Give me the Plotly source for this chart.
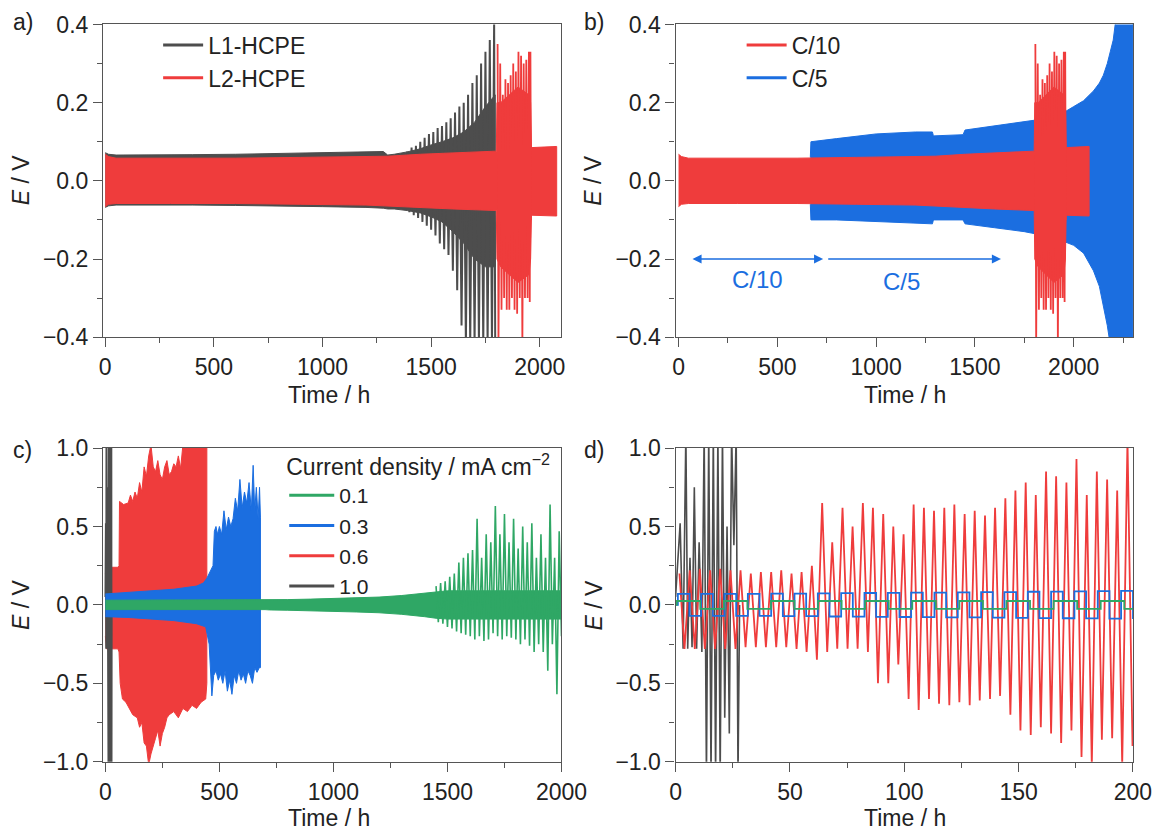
import plotly.graph_objects as go

# ---------------- colours ----------------
GRAY = "#4d4d4d"
RED = "#ef3c3c"
BLUE = "#1b6ee0"
GREEN = "#2fa765"

# ---------------- panel a : L1-HCPE (dense band + spikes) ----------------
A_L1_T = [0, 15, 50, 200, 400, 600, 800, 1000, 1200, 1280, 1300, 1330, 1390, 1450, 1500, 1550, 1600, 1650, 1700, 1750, 1795]
A_L1_HI = [0.072, 0.068, 0.066, 0.066, 0.067, 0.068, 0.07, 0.072, 0.074, 0.075, 0.066, 0.068, 0.074, 0.082, 0.092, 0.1, 0.11, 0.125, 0.15, 0.19, 0.22]
A_L1_LO = [-0.068, -0.064, -0.062, -0.062, -0.062, -0.063, -0.064, -0.066, -0.068, -0.07, -0.072, -0.072, -0.076, -0.082, -0.092, -0.105, -0.13, -0.16, -0.2, -0.22, -0.22]
A_L1_PK_T = [1390, 1410, 1430, 1450, 1470, 1490, 1510, 1530, 1550, 1570, 1590, 1610, 1630, 1650, 1670, 1690, 1710, 1730, 1750, 1770, 1790]
A_L1_PK_V = [0.075, 0.085, 0.09, 0.1, 0.11, 0.12, 0.125, 0.135, 0.14, 0.15, 0.16, 0.175, 0.19, 0.2, 0.22, 0.25, 0.27, 0.3, 0.33, 0.36, 0.41]
A_L1_TR_T = [1400, 1420, 1440, 1460, 1480, 1500, 1520, 1540, 1560, 1580, 1600, 1620, 1640, 1660, 1680, 1700, 1720, 1740, 1760, 1780, 1795]
A_L1_TR_V = [-0.08, -0.088, -0.095, -0.105, -0.115, -0.125, -0.14, -0.16, -0.175, -0.19, -0.23, -0.28, -0.37, -0.42, -0.42, -0.42, -0.42, -0.42, -0.42, -0.42, -0.42]

# ---------------- L2-HCPE / C/10 (same cell in a and b) ----------------
L2_T = [0, 15, 50, 300, 600, 900, 1200, 1300, 1450, 1600, 1800, 1803, 1820, 1860, 1900, 1950, 1958, 1962, 2000, 2078]
L2_HI = [0.068, 0.062, 0.058, 0.058, 0.058, 0.06, 0.062, 0.063, 0.068, 0.072, 0.076, 0.2, 0.2, 0.22, 0.24, 0.22, 0.2, 0.085, 0.086, 0.088]
L2_LO = [-0.066, -0.06, -0.058, -0.058, -0.058, -0.06, -0.062, -0.064, -0.068, -0.072, -0.076, -0.2, -0.22, -0.24, -0.26, -0.24, -0.2, -0.088, -0.088, -0.09]
L2_PK_T = [1806, 1818, 1830, 1842, 1854, 1866, 1878, 1890, 1902, 1914, 1926, 1938, 1950, 1957]
L2_PK_V = [0.35, 0.3, 0.22, 0.26, 0.25, 0.27, 0.3, 0.28, 0.33, 0.32, 0.3, 0.31, 0.33, 0.33]
L2_TR_T = [1810, 1824, 1836, 1848, 1860, 1872, 1884, 1896, 1908, 1920, 1932, 1944, 1954, 1960]
L2_TR_V = [-0.42, -0.33, -0.3, -0.33, -0.33, -0.3, -0.33, -0.34, -0.3, -0.42, -0.3, -0.3, -0.31, -0.1]

# ---------------- panel b : C/5 ----------------
B_C5_T = [667, 670, 800, 1000, 1200, 1285, 1290, 1440, 1450, 1600, 1750, 1800, 1900, 1950, 2000, 2050, 2100, 2130, 2150, 2170, 2185, 2200, 2215, 2300]
B_C5_HI = [0.06, 0.1, 0.108, 0.12, 0.125, 0.125, 0.115, 0.118, 0.13, 0.14, 0.15, 0.155, 0.165, 0.175, 0.19, 0.205, 0.23, 0.25, 0.27, 0.3, 0.33, 0.36, 0.42, 0.42]
B_C5_LO = [-0.06, -0.1, -0.1, -0.104, -0.108, -0.11, -0.1, -0.1, -0.11, -0.12, -0.13, -0.135, -0.145, -0.155, -0.165, -0.185, -0.23, -0.27, -0.32, -0.37, -0.42, -0.42, -0.42, -0.42]

# ---------------- panel c ----------------
C_R_HT = [0, 5, 55, 60, 62, 80, 100, 110, 120, 130, 140, 150, 160, 170, 180, 190, 200, 210, 220, 230, 240, 250, 260, 270, 280, 290, 300, 310, 320, 330, 340, 350, 445]
C_R_HV = [0.2, 0.24, 0.24, 0.25, 0.66, 0.64, 0.65, 0.7, 0.66, 0.72, 0.68, 0.78, 0.72, 0.88, 0.82, 0.95, 1.02, 0.88, 0.85, 0.92, 0.83, 0.8, 0.88, 0.92, 0.83, 0.85, 0.9, 0.88, 0.95, 0.87, 1.02, 1.05, 1.05]
C_R_LT = [0, 5, 55, 60, 65, 75, 90, 100, 120, 140, 150, 160, 170, 180, 190, 200, 210, 220, 230, 240, 250, 260, 270, 280, 300, 320, 340, 360, 380, 400, 420, 440, 445]
C_R_LV = [-0.2, -0.28, -0.28, -0.3, -0.5, -0.6, -0.62, -0.65, -0.7, -0.72, -0.78, -0.75, -0.88, -0.9, -1.02, -0.95, -0.9, -0.85, -0.8, -0.9, -0.82, -0.78, -0.72, -0.7, -0.68, -0.72, -0.66, -0.68, -0.64, -0.66, -0.62, -0.6, -0.5]

C_B_HT = [0, 100, 200, 300, 400, 430, 445, 455, 465, 472, 478, 485, 492, 500, 510, 520, 530, 540, 550, 560, 570, 580, 590, 600, 610, 620, 630, 640, 648, 655, 662, 670, 676, 680]
C_B_HV = [0.07, 0.08, 0.09, 0.1, 0.12, 0.14, 0.17, 0.2, 0.22, 0.25, 0.47, 0.5, 0.45, 0.5, 0.45, 0.6, 0.48, 0.56, 0.5, 0.55, 0.68, 0.6, 0.8, 0.62, 0.72, 0.65, 0.78, 0.6, 0.89, 0.6, 0.75, 0.55, 0.75, 0.56]
C_B_LT = [0, 100, 200, 300, 400, 440, 455, 462, 467, 475, 485, 495, 505, 515, 525, 535, 545, 555, 565, 575, 585, 595, 605, 615, 625, 635, 645, 655, 665, 675, 680]
C_B_LV = [-0.075, -0.08, -0.09, -0.1, -0.12, -0.14, -0.25, -0.45, -0.58, -0.45, -0.42, -0.48, -0.44, -0.5, -0.42, -0.55, -0.48, -0.57, -0.45, -0.5, -0.42, -0.48, -0.44, -0.5, -0.42, -0.45, -0.5, -0.4, -0.43, -0.4, -0.4]

C_G_T = [0, 700, 720, 800, 900, 1000, 1100, 1200, 1300, 1400, 1450, 1500, 1550, 1600, 1700, 1800, 1900, 2000]
C_G_HI = [0.03, 0.03, 0.032, 0.034, 0.037, 0.04, 0.045, 0.05, 0.06, 0.075, 0.085, 0.09, 0.09, 0.09, 0.09, 0.09, 0.09, 0.09]
C_G_LO = [-0.03, -0.03, -0.032, -0.034, -0.037, -0.04, -0.045, -0.05, -0.06, -0.075, -0.085, -0.09, -0.09, -0.09, -0.09, -0.09, -0.09, -0.09]
C_G_PK_T = [1450, 1470, 1490, 1510, 1530, 1550, 1570, 1590, 1610, 1630, 1650, 1670, 1690, 1710, 1730, 1750, 1770, 1790, 1810, 1830, 1850, 1870, 1890, 1910, 1930, 1950, 1970, 1990]
C_G_PK_V = [0.12, 0.14, 0.15, 0.18, 0.2, 0.27, 0.3, 0.33, 0.35, 0.55, 0.3, 0.45, 0.4, 0.63, 0.45, 0.58, 0.4, 0.55, 0.36, 0.5, 0.4, 0.52, 0.3, 0.45, 0.3, 0.64, 0.3, 0.47]
C_G_TR_T = [1460, 1480, 1500, 1520, 1540, 1560, 1580, 1600, 1620, 1640, 1660, 1680, 1700, 1720, 1740, 1760, 1780, 1800, 1820, 1840, 1860, 1880, 1900, 1920, 1940, 1960, 1980, 2000]
C_G_TR_V = [-0.11, -0.12, -0.14, -0.15, -0.17, -0.18, -0.19, -0.2, -0.22, -0.2, -0.23, -0.22, -0.18, -0.2, -0.22, -0.2, -0.21, -0.22, -0.25, -0.22, -0.26, -0.3, -0.25, -0.3, -0.42, -0.25, -0.57, -0.2]

# ---------------- 1.0 mA cm-2 cell (panels c and d) ----------------
K_T = [0, 1, 2, 3.3, 4.5, 5.3, 6.3, 7.2, 8.2, 9.2, 10.3, 11.5, 12.5, 13.5, 14.5, 15.5, 16.5, 17.5, 18.5, 19.5, 20.5, 21.5, 22.5, 23.5, 24.5, 25.5, 26.5, 27.3, 28]
K_V = [0.05, 0.3, 0.52, -0.28, 1.1, -0.28, 0.3, -0.27, 0.75, -0.28, 0.4, -0.3, 1.1, -1.1, 1.1, -1.1, 1.1, -1.1, 1.1, -1.1, 1.1, -0.72, 0.5, -0.82, 1.1, 0.38, 1.1, -1.1, 0.0]

# ---------------- panel d : 0.6 mA cm-2 turning points ----------------
D_R_PK_T = [1.7, 6.2, 10.6, 15.1, 19.5, 24.0, 28.4, 32.9, 37.3, 41.8, 46.2, 50.7, 55.1, 59.6, 64.1, 68.5, 73.0, 77.4, 81.9, 86.3, 90.8, 95.2, 99.7, 104.1, 108.6, 113.0, 117.5, 121.9, 126.4, 130.8, 135.3, 139.7, 144.2, 148.6, 153.1, 157.5, 162.0, 166.4, 170.9, 175.3, 179.8, 184.2, 188.7, 193.1, 197.6]
D_R_PK_V = [0.2, 0.22, 0.23, 0.22, 0.23, 0.22, 0.22, 0.2, 0.21, 0.21, 0.22, 0.2, 0.21, 0.25, 0.65, 0.4, 0.62, 0.5, 0.65, 0.62, 0.58, 0.5, 0.45, 0.64, 0.62, 0.6, 0.62, 0.64, 0.58, 0.6, 0.57, 0.62, 0.68, 0.73, 0.78, 0.7, 0.85, 0.82, 0.78, 0.93, 0.7, 0.85, 0.8, 0.73, 1.05]
D_R_TR_T = [3.9, 8.4, 12.8, 17.3, 21.7, 26.2, 30.6, 35.1, 39.5, 44.0, 48.4, 52.9, 57.3, 61.8, 66.3, 70.7, 75.2, 79.6, 84.1, 88.5, 93.0, 97.4, 101.9, 106.3, 110.8, 115.2, 119.7, 124.1, 128.6, 133.0, 137.5, 141.9, 146.4, 150.8, 155.3, 159.7, 164.2, 168.6, 173.1, 177.5, 182.0, 186.4, 190.9, 195.3, 199.8]
D_R_TR_V = [-0.28, -0.28, -0.28, -0.28, -0.28, -0.28, -0.27, -0.27, -0.27, -0.27, -0.27, -0.28, -0.3, -0.35, -0.3, -0.28, -0.28, -0.28, -0.3, -0.5, -0.5, -0.38, -0.6, -0.67, -0.6, -0.63, -0.64, -0.62, -0.64, -0.61, -0.6, -0.58, -0.7, -0.8, -0.83, -0.78, -0.82, -0.88, -0.8, -0.97, -1.02, -0.86, -0.85, -1.02, -0.9]

# 0.3 mA cm-2: square-wave switching times and levels
D_B_T = [0, 1.0, 6.1, 11.2, 16.3, 21.4, 26.5, 31.6, 36.7, 41.8, 46.9, 52.0, 57.1, 62.2, 67.3, 72.4, 77.5, 82.6, 87.7, 92.8, 97.9, 103.0, 108.1, 113.2, 118.3, 123.4, 128.5, 133.6, 138.7, 143.8, 148.9, 154.0, 159.1, 164.2, 169.3, 174.4, 179.5, 184.6, 189.7, 194.8, 200]
D_B_V = [0.0, 0.07, -0.07, 0.07, -0.07, 0.07, -0.07, 0.07, -0.07, 0.072, -0.072, 0.072, -0.072, 0.074, -0.074, 0.075, -0.075, 0.076, -0.076, 0.077, -0.077, 0.078, -0.078, 0.079, -0.079, 0.08, -0.08, 0.081, -0.081, 0.082, -0.082, 0.084, -0.084, 0.085, -0.085, 0.086, -0.086, 0.088, -0.088, 0.09, -0.09]
# 0.1 mA cm-2
D_G_T = [0, 0.5, 10.8, 21.1, 31.4, 41.7, 52.0, 62.3, 72.6, 82.9, 93.2, 103.5, 113.8, 124.1, 134.4, 144.7, 155.0, 165.3, 175.6, 185.9, 196.2, 200]
D_G_V = [0.0, 0.025, -0.025, 0.025, -0.025, 0.025, -0.025, 0.025, -0.025, 0.025, -0.025, 0.025, -0.025, 0.025, -0.025, 0.025, -0.025, 0.025, -0.025, 0.025, -0.025, -0.025]


def band(t_hi, v_hi, t_lo, v_lo):
    return list(t_hi) + list(t_lo)[::-1], list(v_hi) + list(v_lo)[::-1]


def zig(t1, v1, t2, v2):
    pts = sorted(zip(list(t1) + list(t2), list(v1) + list(v2)))
    return [p[0] for p in pts], [p[1] for p in pts]


fig = go.Figure()


def add_band(x, y, color, xa, ya):
    fig.add_trace(go.Scatter(x=x, y=y, mode="lines", fill="toself", fillcolor=color,
                             line=dict(color=color, width=1), showlegend=False,
                             hoverinfo="skip", xaxis=xa, yaxis=ya))


def add_line(x, y, color, xa, ya, width=1.5, shape="linear"):
    fig.add_trace(go.Scatter(x=x, y=y, mode="lines", line=dict(color=color, width=width, shape=shape),
                             showlegend=False, hoverinfo="skip", xaxis=xa, yaxis=ya))


def add_legend_entry(name, color, legend, xa, ya, rank):
    fig.add_trace(go.Scatter(x=[None], y=[None], mode="lines", name=name,
                             line=dict(color=color, width=3), legend=legend,
                             legendrank=rank, xaxis=xa, yaxis=ya))


# ---- panel a ----
add_band(*band(A_L1_T, A_L1_HI, A_L1_T, A_L1_LO), GRAY, "x", "y")
add_line(*zig(A_L1_PK_T, A_L1_PK_V, A_L1_TR_T, A_L1_TR_V), GRAY, "x", "y", width=2)
add_band(*band(L2_T, L2_HI, L2_T, L2_LO), RED, "x", "y")
add_line(*zig(L2_PK_T, L2_PK_V, L2_TR_T, L2_TR_V), RED, "x", "y", width=1.8)
add_legend_entry("L1-HCPE", GRAY, "legend", "x", "y", 1)
add_legend_entry("L2-HCPE", RED, "legend", "x", "y", 2)

# ---- panel b ----
add_band(*band(B_C5_T, B_C5_HI, B_C5_T, B_C5_LO), BLUE, "x2", "y2")
add_band(*band(L2_T, L2_HI, L2_T, L2_LO), RED, "x2", "y2")
add_line(*zig(L2_PK_T, L2_PK_V, L2_TR_T, L2_TR_V), RED, "x2", "y2", width=1.8)
add_legend_entry("C/10", RED, "legend2", "x2", "y2", 1)
add_legend_entry("C/5", BLUE, "legend2", "x2", "y2", 2)

# ---- panel c ----
add_band(*band(C_R_HT, C_R_HV, C_R_LT, C_R_LV), RED, "x3", "y3")
add_line(K_T, K_V, GRAY, "x3", "y3", width=1.8)
add_band(*band(C_B_HT, C_B_HV, C_B_LT, C_B_LV), BLUE, "x3", "y3")
add_band(*band(C_G_T, C_G_HI, C_G_T, C_G_LO), GREEN, "x3", "y3")
add_line(*zig(C_G_PK_T, C_G_PK_V, C_G_TR_T, C_G_TR_V), GREEN, "x3", "y3", width=1.6)
add_legend_entry("0.1", GREEN, "legend3", "x3", "y3", 1)
add_legend_entry("0.3", BLUE, "legend3", "x3", "y3", 2)
add_legend_entry("0.6", RED, "legend3", "x3", "y3", 3)
add_legend_entry("1.0", GRAY, "legend3", "x3", "y3", 4)

# ---- panel d ----
add_line(K_T, K_V, GRAY, "x4", "y4", width=1.6)
add_line(*zig(D_R_PK_T, D_R_PK_V, D_R_TR_T, D_R_TR_V), RED, "x4", "y4", width=1.8)
add_line(D_B_T, D_B_V, BLUE, "x4", "y4", width=1.8, shape="hv")
add_line(D_G_T, D_G_V, GREEN, "x4", "y4", width=1.8, shape="hv")

AX = "#555555"
FONT = "Liberation Sans, Arial, sans-serif"
FS = 23
W, H = 1178, 840
# the page is photographed at a slight zoom; convert target picture pixels to paper coords
SX, OX = 0.972, 7.0
SY, OY = 0.970, 12.5


def px(r):
    return (r - OX) / SX / W


def py(r):
    return 1 - (r - OY) / SY / H


def xax(domain, rng, dtick, minor, anchor):
    return dict(domain=domain, range=rng, anchor=anchor, dtick=dtick, tick0=0,
                showline=True, mirror=True, linecolor=AX, linewidth=1.3,
                ticks="outside", ticklen=9, tickwidth=1.3, tickcolor=AX,
                minor=dict(ticks="outside", ticklen=5, tickwidth=1.3, tickcolor=AX, dtick=minor),
                showgrid=False, zeroline=False, tickfont=dict(size=FS, color="#222"))


def yax(domain, rng, dtick, minor, anchor):
    d = xax(domain, rng, dtick, minor, anchor)
    d["tickformat"] = ".1f"
    return d


XL = [px(104), px(562)]
XR = [px(676), px(1133)]
YT = [py(337), py(24)]
YB = [py(762), py(448)]

LEG = dict(xanchor="left", yanchor="top", bgcolor="rgba(0,0,0,0)", font=dict(size=23),
           tracegroupgap=0, itemwidth=40)

fig.update_layout(
    width=W, height=H, margin=dict(l=0, r=0, t=0, b=0),
    paper_bgcolor="white", plot_bgcolor="white",
    font=dict(family=FONT, size=FS, color="#222"),
    xaxis=xax(XL, [-10, 2100], 500, 250, "y"),
    yaxis=yax(YT, [-0.4, 0.4], 0.2, 0.1, "x"),
    xaxis2=xax(XR, [-15, 2300], 500, 250, "y2"),
    yaxis2=yax(YT, [-0.4, 0.4], 0.2, 0.1, "x2"),
    xaxis3=xax(XL, [-10, 2000], 500, 250, "y3"),
    yaxis3=yax(YB, [-1, 1], 0.5, 0.25, "x3"),
    xaxis4=xax(XR, [0, 200], 50, 25, "y4"),
    yaxis4=yax(YB, [-1, 1], 0.5, 0.25, "x4"),
    legend=dict(x=px(159), y=py(23), **LEG),
    legend2=dict(x=px(742), y=py(23), **LEG),
    legend3=dict(x=px(285), y=py(445), xanchor="left", yanchor="top", bgcolor="rgba(0,0,0,0)",
                 font=dict(size=21), tracegroupgap=0, itemwidth=45,
                 title=dict(text="Current density / mA cm<sup>\u22122</sup>", font=dict(size=23))),
)

# panel labels
for txt, x, y in [("a)", 12, 22), ("b)", 583, 22), ("c)", 12, 450), ("d)", 583, 450)]:
    fig.add_annotation(text=txt, x=px(x), y=py(y), xref="paper", yref="paper", xanchor="left",
                       yanchor="middle", showarrow=False, font=dict(size=FS, color="#222"))

# axis titles
for x, y in [(22, 180), (594, 180), (22, 605), (594, 605)]:
    fig.add_annotation(text="<i>E</i> / V", x=px(x), y=py(y), xref="paper", yref="paper", textangle=-90,
                       showarrow=False, xanchor="center", yanchor="middle", font=dict(size=FS, color="#222"))
for x, y in [(330, 395), (905, 395), (330, 818), (905, 818)]:
    fig.add_annotation(text="Time / h", x=px(x), y=py(y), xref="paper", yref="paper",
                       showarrow=False, xanchor="center", yanchor="middle", font=dict(size=FS, color="#222"))

# panel b arrows and labels
fig.add_annotation(x=732, y=-0.2, ax=63, ay=-0.2, xref="x2", yref="y2", axref="x2", ayref="y2",
                   text="", showarrow=True, arrowside="end+start", arrowhead=2, arrowsize=1.3,
                   arrowwidth=1.4, arrowcolor=BLUE)
fig.add_annotation(x=1632, y=-0.2, ax=750, ay=-0.2, xref="x2", yref="y2", axref="x2", ayref="y2",
                   text="", showarrow=True, arrowside="end", arrowhead=2, arrowsize=1.3,
                   arrowwidth=1.4, arrowcolor=BLUE)
fig.add_annotation(x=400, y=-0.252, xref="x2", yref="y2", text="C/10", showarrow=False,
                   font=dict(size=24, color=BLUE))
fig.add_annotation(x=1130, y=-0.257, xref="x2", yref="y2", text="C/5", showarrow=False,
                   font=dict(size=24, color=BLUE))

fig.write_html("out.html")
